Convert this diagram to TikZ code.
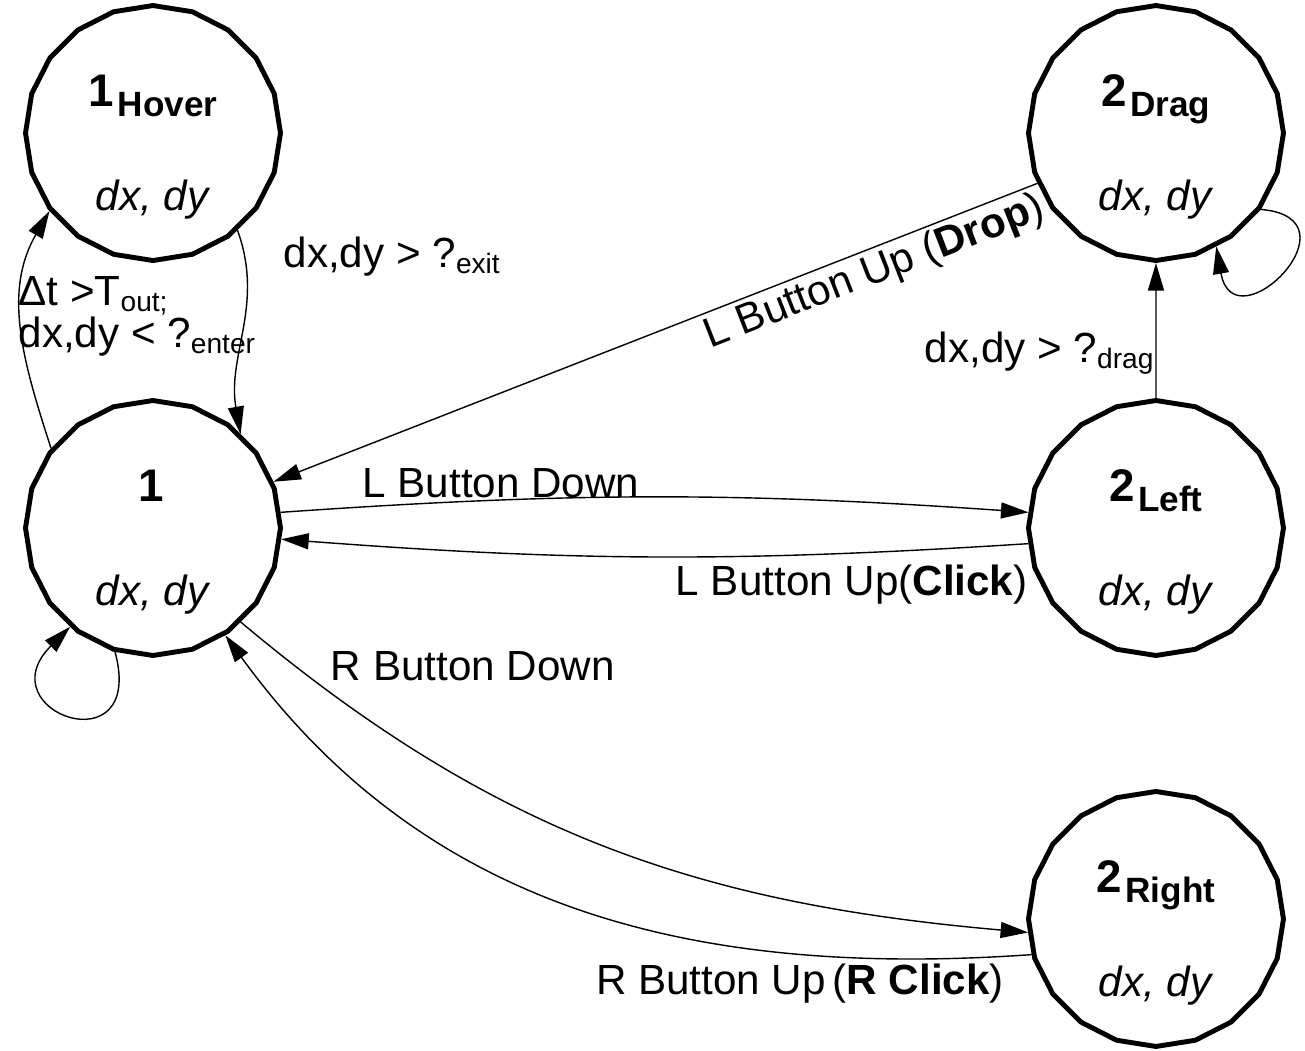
\documentclass[tikz,border=0pt]{standalone}
\usepackage{fontspec}
\setmainfont{Liberation Sans}
\usetikzlibrary{
    arrows.meta,
    positioning,
    shapes.geometric,
}

\newcommand{\statename}[2]{{\bfseries\fontsize{26}{30}\selectfont #1\hspace{2pt}\raisebox{-0.2cm}{\fontsize{20}{22}\selectfont #2}}}
\newcommand{\lowsub}[1]{\raisebox{-0.12cm}{\fontsize{16}{18}\selectfont #1}}

\begin{document}
\begin{tikzpicture}[
    every node/.style={font=\fontsize{24}{28}\selectfont},
    state/.style={draw, line width=2.8pt, regular polygon, regular polygon sides=20,
        shape border rotate=9, minimum size=5.1cm, inner sep=0pt, align=center},
    trans/.style={line width=0.8pt, -{Triangle[length=0.55cm, width=0.32cm]}},
]
\useasboundingbox (0,0) rectangle (26.1,-21.02);

\node[state] (one) at (3.06,-10.56) {\rule{0pt}{1.2cm}\statename{1}{}\\[1.1cm]\textit{dx, dy}};
\node[state] (hover) [above=2.7cm of one] {\rule{0pt}{1.2cm}\statename{1}{Hover}\\[1.1cm]\textit{dx, dy}};
\node[state] (left) [right=14.86cm of one] {\rule{0pt}{1.2cm}\statename{2}{Left}\\[1.1cm]\textit{dx, dy}};
\node[state] (drag) [above=2.7cm of left] {\rule{0pt}{1.2cm}\statename{2}{Drag}\\[1.1cm]\textit{dx, dy}};
\node[state] (right) [below=2.62cm of left] {\rule{0pt}{1.2cm}\statename{2}{Right}\\[1.1cm]\textit{dx, dy}};

% hover in and out
\draw[trans] (one.142) to[out=108, in=240]
    node[anchor=west, align=left, pos=0.5, xshift=-0.2cm, yshift=0.2cm] {Δt >T\lowsub{out;}\\[-4pt]dx,dy < ?\lowsub{enter}} (hover.217);
\draw[trans] (hover.-49) to[out=-70, in=100]
    node[anchor=west, pos=0.12, xshift=0.65cm] {dx,dy > ?\lowsub{exit}} (one.47);
\draw[trans] (one.-107) to[out=-75, in=225, looseness=6] (one.-130);

% left button
\draw[trans] (one.7) to[bend left=4] node[above, inner sep=1pt, pos=0.28] {L Button Down} (left.173);
\draw[trans] (left.187) to[bend left=4] node[below, pos=0.22, yshift=-0.1cm] {L Button Up(\textbf{Click})} (one.-5);
\draw[trans] (left) -- node[left, inner sep=1pt, pos=0.33] {dx,dy > ?\lowsub{drag}} (drag);
\draw[trans] (drag.-36) to[out=-5, in=-80, looseness=4.5] (drag.-62);
\draw[trans] (drag.203) -- node[below, sloped, inner sep=2pt, pos=0.225] {L Button Up (\textbf{Drop})} (one.21);

% right button
\draw[trans] (one.-47) to[out=-40, in=175]
    node[anchor=south west, inner sep=0pt, pos=0.1, xshift=0.3cm] {R Button Down} (right.186);
\draw[trans] (right.196) to[out=184, in=-54]
    node[below, inner sep=2pt, pos=0.24, yshift=-0.12cm] {R Button Up\,(\textbf{R Click})} (one.-56);

\end{tikzpicture}
\end{document}
